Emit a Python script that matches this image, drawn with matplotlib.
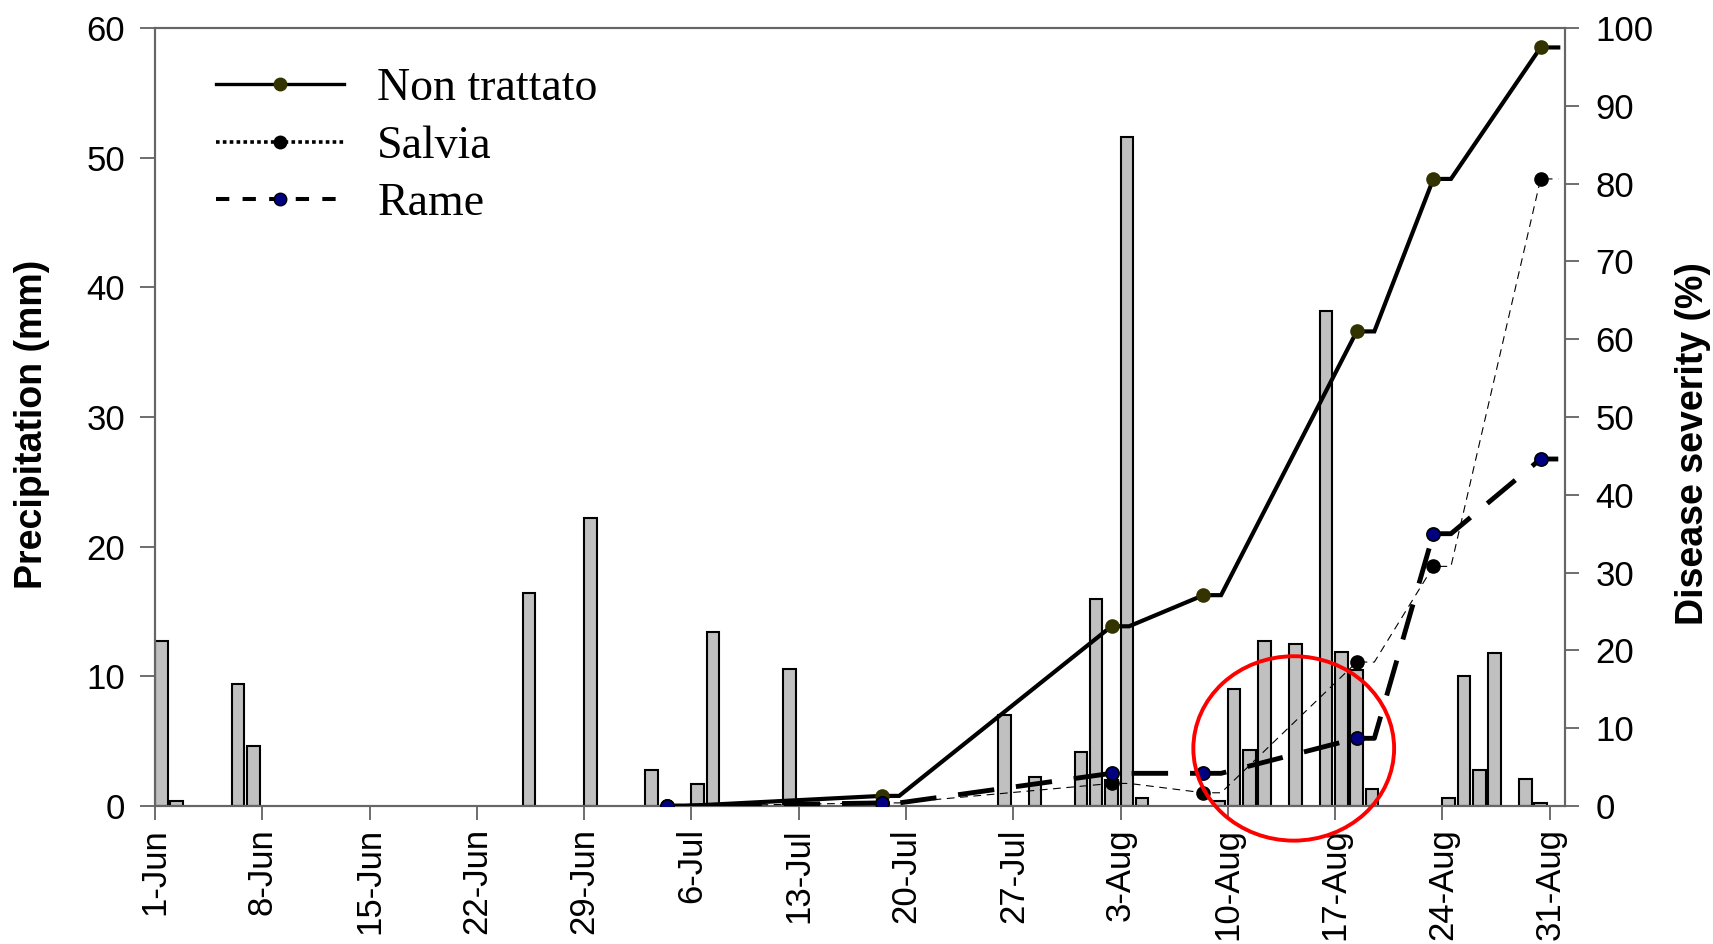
import matplotlib
matplotlib.use("Agg")
import matplotlib.pyplot as plt
from matplotlib.lines import Line2D
from matplotlib.patches import Ellipse

# days counted from 1-Jun (day 0)
tick_days = [0, 7, 14, 21, 28, 35, 42, 49, 56, 63, 70, 77, 84, 91]
tick_labels = ["1-Jun", "8-Jun", "15-Jun", "22-Jun", "29-Jun", "6-Jul", "13-Jul",
               "20-Jul", "27-Jul", "3-Aug", "10-Aug", "17-Aug", "24-Aug", "31-Aug"]

# daily precipitation (mm)
rain_days = [0, 1, 5, 6, 24, 28, 32, 35, 36, 41, 55, 57, 60, 61, 62, 63, 64,
             69, 70, 71, 72, 74, 76, 77, 78, 79, 84, 85, 86, 87, 89, 90]
rain_mm = [12.7, 0.4, 9.4, 4.6, 16.4, 22.2, 2.8, 1.7, 13.4, 10.6, 7.0, 2.2, 4.2, 16.0, 2.0, 51.6, 0.6,
           0.4, 9.0, 4.3, 12.7, 12.5, 38.2, 11.9, 10.5, 1.3, 0.6, 10.0, 2.8, 11.8, 2.1, 0.2]

# disease severity (%) at survey dates
survey_days = [33, 47, 62, 68, 78, 83, 90]
non_trattato = [0, 1.3, 23.1, 27.1, 61.0, 80.6, 97.5]
salvia = [0, 0.4, 2.9, 1.7, 18.5, 30.8, 80.6]
rame = [0, 0.4, 4.2, 4.2, 8.7, 35.0, 44.6]

BAR_W = 0.82
TAIL = 1.15


def with_tails(days, vals):
    xs, ys = [], []
    for d, v in zip(days, vals):
        c = d + BAR_W / 2
        xs += [c, c + TAIL]
        ys += [v, v]
    return xs, ys


sans = "Liberation Sans"
serif = "Liberation Serif"

fig, ax = plt.subplots(figsize=(17.13, 9.44), dpi=100)
fig.subplots_adjust(left=155 / 1713, right=1565 / 1713, top=1 - 28 / 944, bottom=1 - 806 / 944)

ax.bar(rain_days, rain_mm, width=BAR_W, align="edge", color="#C0C0C0",
       edgecolor="black", linewidth=1.5, zorder=2)
ax.set_xlim(0, 92)
ax.set_ylim(0, 60)
ax.set_yticks(range(0, 61, 10))
ax.set_xticks(tick_days)
ax.set_xticklabels(tick_labels, rotation=90, fontsize=25, family=sans)
for lab in ax.get_yticklabels():
    lab.set_fontsize(25)
    lab.set_family(sans)
ax.tick_params(axis="x", direction="out", length=10, width=1.2, color="#555555", pad=6)
ax.tick_params(axis="y", direction="out", length=10.5, width=1.2, color="#555555", pad=11)
ax.set_ylabel("Precipitation (mm)", fontsize=27, fontweight="bold", family=sans)
ax.yaxis.set_label_coords(-0.0745, 0.49)

ax2 = ax.twinx()
ax2.set_ylim(0, 100)
ax2.set_yticks(range(0, 101, 10))
for lab in ax2.get_yticklabels():
    lab.set_fontsize(25)
    lab.set_family(sans)
ax2.tick_params(axis="y", direction="out", length=10, width=1.2, color="#555555", pad=12)
ax2.set_ylabel("Disease severity (%)", fontsize=27, fontweight="bold", family=sans)
ax2.yaxis.set_label_coords(1.078, 0.466)

for a in (ax, ax2):
    for s in a.spines.values():
        s.set_color("#666666")
        s.set_linewidth(1.5)

mx = [d + BAR_W / 2 for d in survey_days]

xs, ys = with_tails(survey_days, non_trattato)
ax2.plot(xs, ys, color="black", lw=3.0, solid_joinstyle="miter", zorder=3)
xs, ys = with_tails(survey_days, salvia)
ax2.plot(xs, ys, color="black", lw=0.8, linestyle=(0, (7, 5)), zorder=3)
xs, ys = with_tails(survey_days, rame)
ax2.plot(xs, ys, color="black", lw=3.5, linestyle=(0, (7.5, 4.5)), zorder=3)

ax2.plot(mx, non_trattato, "o", color="#333300", mec="#333300", ms=9.5, zorder=4)
ax2.plot(mx, salvia, "o", color="black", mec="black", ms=9.5, zorder=4)
ax2.plot(mx, rame, "o", color="#000080", mec="black", mew=1.2, ms=9.5, zorder=4)

# red highlight ellipse
ax2.add_patch(Ellipse((74.3, 7.4), width=13.1, height=23.7, fill=False,
                      edgecolor="red", lw=2.8, clip_on=False, zorder=6))

handles = [
    Line2D([], [], color="black", lw=2.4, marker="o", ms=9, mfc="#333300", mec="#333300"),
    Line2D([], [], color="black", lw=2.6, linestyle=(0, (1, 0.9)), marker="o", ms=9,
           mfc="black", mec="black"),
    Line2D([], [], color="black", lw=2.9, linestyle=(0, (3.3, 3.3)), marker="o", ms=9,
           mfc="#000080", mec="black"),
]
ax2.legend(handles, ["Non trattato", "Salvia", "Rame"], loc="upper left",
           bbox_to_anchor=(216 / 1713, 1 - 68 / 944), bbox_transform=fig.transFigure,
           frameon=False, prop={"family": serif, "size": 33}, handlelength=2.8,
           handletextpad=0.72, labelspacing=0.32, borderpad=0, borderaxespad=0)

fig.savefig("out.png", dpi=100)
